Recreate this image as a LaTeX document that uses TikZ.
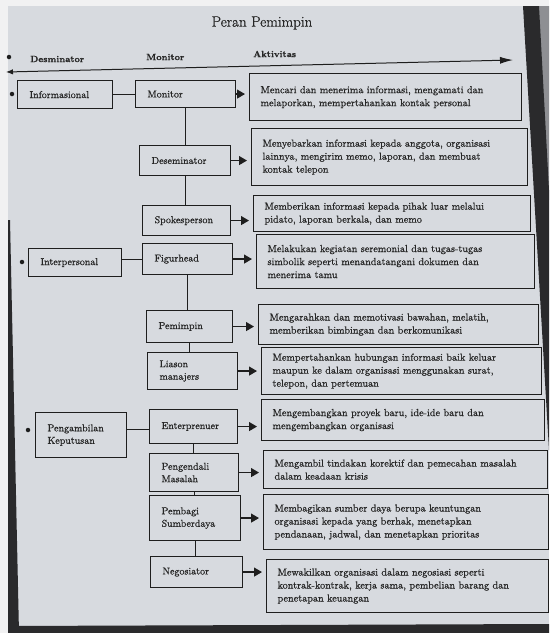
\documentclass[tikz,border=0pt]{standalone}
\usepackage{fontspec}
\setmainfont{Latin Modern Roman}[FakeBold=0.7]
\usetikzlibrary{arrows.meta,calc}
\definecolor{pagebg}{HTML}{D7DADF}
\definecolor{marginc}{HTML}{F1F1F2}
\definecolor{edgec}{HTML}{2A2A2C}
\definecolor{nextpg}{HTML}{8E8F93}
\definecolor{ink}{HTML}{1E1E1E}
\definecolor{txt}{HTML}{262626}
\begin{document}
\begin{tikzpicture}[x=1pt,y=-1pt,
  catbox/.style={draw=ink, line width=1.1pt, anchor=north west, align=left, inner xsep=12pt, inner ysep=0pt, font=\fontsize{10}{12.5}\selectfont, text=txt},
  actbox/.style={draw=ink, line width=1.1pt, anchor=north west, align=left, inner xsep=11pt, inner ysep=0pt, font=\fontsize{10.2}{13}\selectfont, text=txt},
  link/.style={draw=ink, line width=1.1pt},
  toact/.style={draw=ink, line width=1.2pt, -{Triangle[length=8pt,width=9pt]}, shorten >=4pt},
  bul/.style={circle, fill=ink, inner sep=0pt, minimum size=4.5pt},
  headtxt/.style={font=\fontsize{9}{10}\selectfont\bfseries, text=txt, anchor=west, inner sep=0pt}
]
% page background (photo)
\fill[marginc] (0,0) rectangle (549,633);
\fill[pagebg] (8,6) rectangle (549,633);
\fill[nextpg] (538,6) -- (549,6) -- (549,200) -- cycle;
\fill[edgec] (523,6) -- (539,6) -- (549,190) -- (549,450) -- cycle;
\fill[edgec] (8,220) -- (10,220) -- (19,633) -- (8,633) -- cycle;
\fill[edgec] (8,626) -- (549,624) -- (549,633) -- (8,633) -- cycle;

% title and header
\node[font=\fontsize{15}{18}\selectfont, text=txt] (title) at (262,23) {Peran Pemimpin};
\node[bul] (hb) at (9,57) {};
\node[headtxt] (h1) at (30,59) {Desminator};
\node[headtxt] (h2) at (146,57) {Monitor};
\node[headtxt] (h3) at (253,54) {Aktivitas};
\coordinate (tl) at (6,72);
\coordinate (tr) at (513,60);
\draw[draw=ink, line width=1pt, {Latex[length=7pt,width=5.5pt]}-{Latex[length=13pt,width=7pt]}] (tl) -- (tr);

% category boxes
\node[catbox, text width=71pt, minimum height=28pt] (inf) at (17,80) {Informasional};
\node[catbox, text width=69pt, minimum height=28pt] (int) at (28,248) {Interpersonal};
\node[catbox, text width=67pt, minimum height=45pt] (pk) at (35,412) {Pengambilan\\Keputusan};
\node[bul] (b1) at (12,94) {};
\node[bul] (b2) at (22,262) {};
\node[bul] (b3) at (28,430) {};

% role boxes
\node[catbox, text width=76pt, minimum height=27pt] (mon) at (135,80) {Monitor};
\node[catbox, text width=67pt, minimum height=30pt] (des) at (139,145) {Deseminator};
\node[catbox, text width=64pt, minimum height=30pt] (spo) at (142,205) {Spokesperson};
\node[catbox, text width=66pt, minimum height=31pt] (fig) at (142,243) {Figurhead};
\node[catbox, text width=62pt, minimum height=32pt] (pem) at (146,310) {Pemimpin};
\node[catbox, text width=66pt, minimum height=37pt] (lia) at (147,352) {Liason\\manajers};
\node[catbox, text width=64pt, minimum height=34pt] (ent) at (149,409) {Enterprenuer};
\node[catbox, text width=65pt, minimum height=38pt] (pen) at (149,453) {Pengendali\\Masalah};
\node[catbox, text width=67pt, minimum height=45pt] (pbs) at (149,495) {Pembagi\\Sumberdaya};
\node[catbox, text width=68pt, minimum height=31pt] (neg) at (150,556) {Negosiator};

% activity boxes
\node[actbox, text width=250pt, minimum height=47pt] (a1) at (249,73) {Mencari dan menerima informasi, mengamati dan\\melaporkan, mempertahankan kontak personal};
\node[actbox, text width=254pt, minimum height=57pt] (a2) at (251,128) {Menyebarkan informasi kepada anggota, organisasi\\lainnya, mengirim memo, laporan, dan membuat\\kontak telepon};
\node[actbox, text width=255pt, minimum height=36pt] (a3) at (253,195) {Memberikan informasi kepada pihak luar melalui\\pidato, laporan berkala, dan memo};
\node[actbox, text width=256pt, minimum height=54pt] (a4) at (256,234) {Melakukan kegiatan seremonial dan tugas-tugas\\simbolik seperti menandatangani dokumen dan\\menerima tamu};
\node[actbox, text width=258pt, minimum height=40pt] (a5) at (258,304) {Mengarahkan dan memotivasi bawahan, melatih,\\memberikan bimbingan dan berkomunikasi};
\node[actbox, text width=258pt, minimum height=47pt] (a6) at (261,347) {Mempertahankan hubungan informasi baik keluar\\maupun ke dalam organisasi menggunakan surat,\\telepon, dan pertemuan};
\node[actbox, text width=261pt, minimum height=41pt] (a7) at (261,399) {Mengembangkan proyek baru, ide-ide baru dan\\mengembangkan organisasi};
\node[actbox, text width=262pt, minimum height=38pt] (a8) at (263,450) {Mengambil tindakan korektif dan pemecahan masalah\\dalam keadaan krisis};
\node[actbox, text width=263pt, minimum height=55pt] (a9) at (263,494) {Membagikan sumber daya berupa keuntungan\\organisasi kepada yang berhak, menetapkan\\pendanaan, jadwal, dan menetapkan prioritas};
\node[actbox, text width=260pt, minimum height=53pt] (a10) at (266,559) {Mewakilkan organisasi dalam negosiasi seperti\\kontrak-kontrak, kerja sama, pembelian barang dan\\penetapan keuangan};

% links
\draw[link] (inf.east) -- (inf.east -| mon.west);
\draw[link] (mon.south) -- (mon.south |- des.north);
\draw[link] (des.south) -- (des.south |- spo.north);
\draw[link] (int.east |- fig.west) -- (fig.west);
\draw[link] (fig.south) -- (fig.south |- pem.north);
\draw[link] (pem.south) -- (pem.south |- lia.north);
\draw[link] ($(pk.east |- ent.west)+(0,3)$) -- ($(ent.west)+(0,3)$);
\draw[link] (ent.south) -- (ent.south |- pen.north);
\draw[link] (pen.south) -- (pen.south |- pbs.north);
\draw[link] (pbs.south) -- (pbs.south |- neg.north);

% arrows to activities
\draw[toact] (mon.east) -- (mon.east -| a1.west);
\draw[toact] (des.east) -- (des.east -| a2.west);
\draw[toact] (spo.east) -- (spo.east -| a3.west);
\draw[toact] (fig.east) -- (fig.east -| a4.west);
\draw[toact] (pem.east) -- (pem.east -| a5.west);
\draw[toact] (lia.east) -- (lia.east -| a6.west);
\draw[toact] (ent.east) -- (ent.east -| a7.west);
\draw[toact] (pen.east) -- (pen.east -| a8.west);
\draw[toact] (pbs.east) -- (pbs.east -| a9.west);
\draw[toact] (neg.east) -- (neg.east -| a10.west);
\end{tikzpicture}
\end{document}
